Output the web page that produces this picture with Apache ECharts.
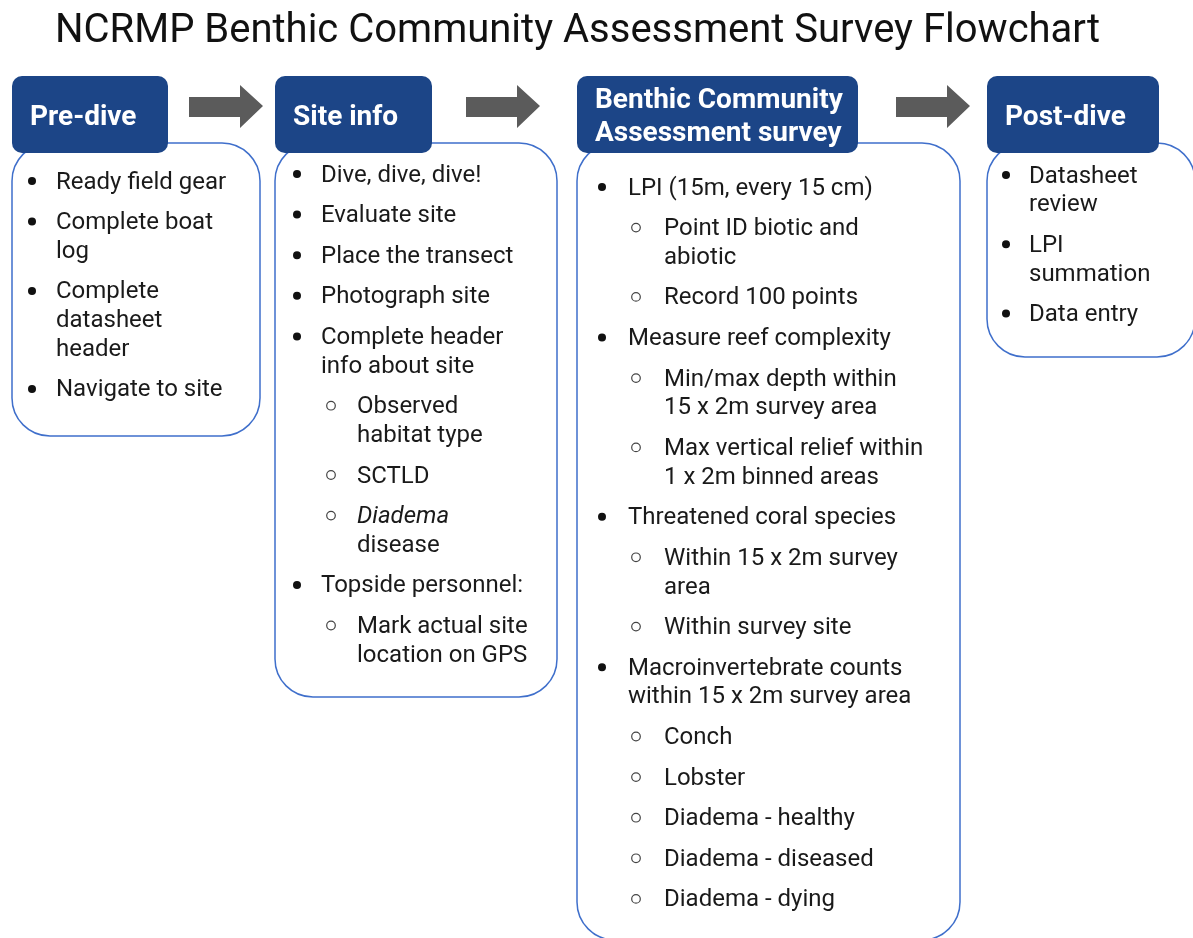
<!DOCTYPE html>
<html>
<head>
<meta charset="utf-8">
<script src="https://cdn.jsdelivr.net/npm/echarts@6/dist/echarts.min.js"></script>
<style>
  html, body { margin: 0; padding: 0; background: #fff; }
  #main { width: 1193px; height: 938px; }
</style>
</head>
<body>
<div id="main"></div>
<script>
// chart text
const chartTitle = 'NCRMP Benthic Community Assessment Survey Flowchart'
const stepTitles = ['Pre-dive', 'Site info', 'Benthic Community\nAssessment survey', 'Post-dive']
// [level, text]; level 0 = bullet, 1 = sub bullet
const preDiveItems = [
  [0, 'Ready field gear'],
  [0, 'Complete boat\nlog'],
  [0, 'Complete\ndatasheet\nheader'],
  [0, 'Navigate to site'],
]
const siteInfoItems = [
  [0, 'Dive, dive, dive!'],
  [0, 'Evaluate site'],
  [0, 'Place the transect'],
  [0, 'Photograph site'],
  [0, 'Complete header\ninfo about site'],
  [1, 'Observed\nhabitat type'],
  [1, 'SCTLD'],
  [1, '{i|Diadema}\ndisease'],
  [0, 'Topside personnel:'],
  [1, 'Mark actual site\nlocation on GPS'],
]
const surveyItems = [
  [0, 'LPI (15m, every 15 cm)'],
  [1, 'Point ID biotic and\nabiotic'],
  [1, 'Record 100 points'],
  [0, 'Measure reef complexity'],
  [1, 'Min/max depth within\n15 x 2m survey area'],
  [1, 'Max vertical relief within\n1 x 2m binned areas'],
  [0, 'Threatened coral species'],
  [1, 'Within 15 x 2m survey\narea'],
  [1, 'Within survey site'],
  [0, 'Macroinvertebrate counts\nwithin 15 x 2m survey area'],
  [1, 'Conch'],
  [1, 'Lobster'],
  [1, 'Diadema - healthy'],
  [1, 'Diadema - diseased'],
  [1, 'Diadema - dying'],
]
const postDiveItems = [
  [0, 'Datasheet\nreview'],
  [0, 'LPI\nsummation'],
  [0, 'Data entry'],
]
const stepItems = [preDiveItems, siteInfoItems, surveyItems, postDiveItems]

// layout
const boxes = [
  { head: [12, 76, 156, 77], body: [12, 143, 248, 293], bx: 32, tx: 56, y0: 181 },
  { head: [275, 76, 157, 77], body: [275, 143, 282, 554], bx: 297, tx: 321, y0: 174 },
  { head: [577, 76, 281, 77], body: [577, 143, 383, 797], bx: 602, tx: 628, y0: 187 },
  { head: [987, 76, 172, 77], body: [987, 143, 208, 214], bx: 1006, tx: 1029, y0: 175 },
]
const arrows = [189, 466, 896]
const LINE = 28.7
const GAP = 11.9
const FONT = 'Roboto, "Noto Sans", sans-serif'
const NAVY = '#1c4587'
const OUTLINE = '#3f6fcb'
const INK = '#1a1a1a'

var chart = echarts.init(document.getElementById('main'))
var els = []

els.push({
  type: 'text', x: 55, y: 32,
  style: { text: chartTitle, font: '40px ' + FONT, fill: '#111', verticalAlign: 'middle' },
})

arrows.forEach(function (x) {
  els.push({
    type: 'polygon',
    shape: { points: [[x, 97], [x + 51, 97], [x + 51, 85], [x + 74, 106], [x + 51, 128], [x + 51, 117], [x, 117]] },
    style: { fill: '#5b5b5b' },
  })
})

boxes.forEach(function (b, i) {
  els.push({
    type: 'rect',
    shape: { x: b.body[0], y: b.body[1], width: b.body[2], height: b.body[3], r: 38 },
    style: { fill: '#fff', stroke: OUTLINE, lineWidth: 1.5 },
  })
  els.push({
    type: 'rect',
    shape: { x: b.head[0], y: b.head[1], width: b.head[2], height: b.head[3], r: 10 },
    style: { fill: NAVY },
  })
  var tl = stepTitles[i].split('\n')
  tl.forEach(function (t, k) {
    var cy = b.head[1] + b.head[3] / 2 + 3 + (k - (tl.length - 1) / 2) * 33
    els.push({
      type: 'text', x: b.head[0] + 18, y: cy,
      style: { text: t, font: 'bold 28px ' + FONT, fill: '#fff', verticalAlign: 'middle' },
    })
  })

  var y = b.y0
  stepItems[i].forEach(function (it) {
    var lvl = it[0]
    var lines = it[1].split('\n')
    var bx = b.bx + lvl * 34
    var tx = b.tx + lvl * 36
    if (lvl === 0) {
      els.push({ type: 'circle', shape: { cx: bx, cy: y, r: 4 }, style: { fill: '#111' } })
    } else {
      els.push({ type: 'circle', shape: { cx: bx, cy: y, r: 4.3 }, style: { fill: 'none', stroke: '#444', lineWidth: 1.2 } })
    }
    lines.forEach(function (ln, k) {
      els.push({
        type: 'text', x: tx, y: y + k * LINE + 1.5,
        style: {
          text: ln, font: '24px ' + FONT, fill: INK, verticalAlign: 'middle',
          rich: { i: { fontStyle: 'italic', fontSize: 24, fontFamily: FONT, fill: INK } },
        },
      })
    })
    y += lines.length * LINE + GAP
  })
})

var option = {
  backgroundColor: '#fff',
  animation: false,
  graphic: { elements: els },
}
option && chart.setOption(option)
</script>
</body>
</html>
